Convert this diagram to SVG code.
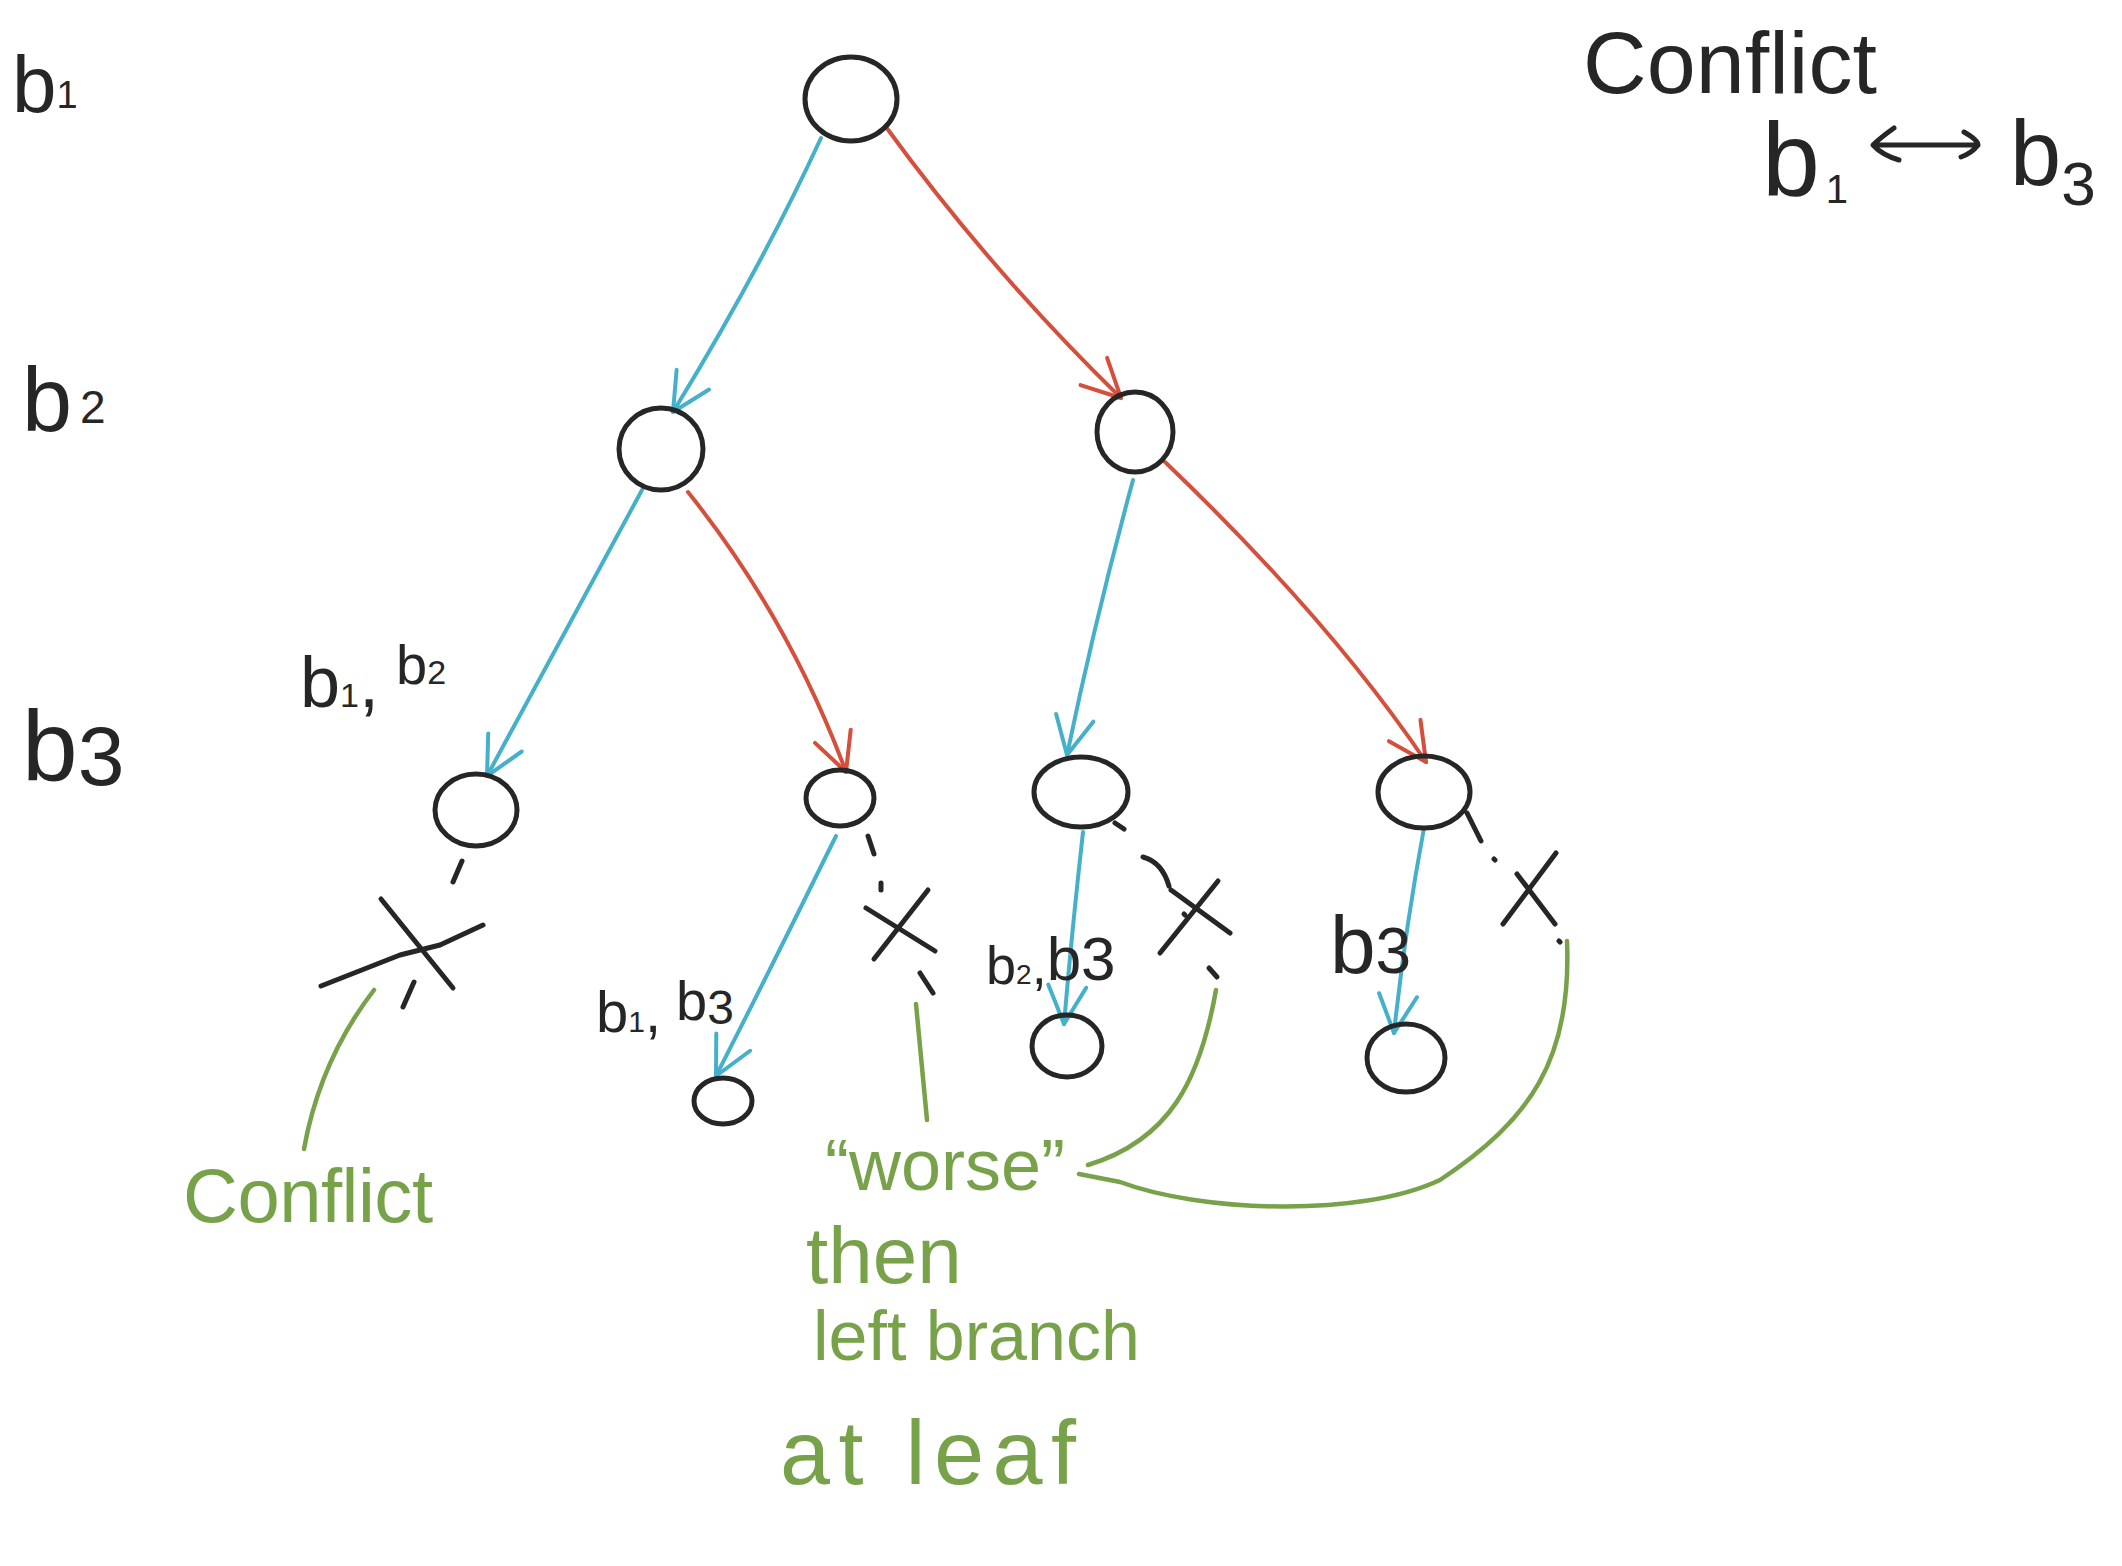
<svg xmlns="http://www.w3.org/2000/svg" width="2122" height="1566" viewBox="0 0 2122 1566">
<defs>
<style>
.bg{fill:#ffffff}
.node{fill:none;stroke:#262626;stroke-width:5;stroke-linecap:round;stroke-linejoin:round}
.blue{fill:none;stroke:#45b0c9;stroke-width:4;stroke-linecap:round}
.red{fill:none;stroke:#d5503c;stroke-width:4;stroke-linecap:round}
.green{fill:none;stroke:#78a24a;stroke-width:4.5;stroke-linecap:round;stroke-linejoin:round}
.cut{fill:none;stroke:#262626;stroke-width:5;stroke-linecap:round;stroke-linejoin:round}
.t{font-family:"Liberation Sans","DejaVu Sans",sans-serif;fill:#262626}
.g{font-family:"Liberation Sans","DejaVu Sans",sans-serif;fill:#78a24a}
</style>
<marker id="ab" markerUnits="userSpaceOnUse" viewBox="-50 -25 60 50" refX="0" refY="0" markerWidth="60" markerHeight="50" orient="auto">
<path d="M-38,-19 L0,0 L-38,19" fill="none" stroke="#45b0c9" stroke-width="4" stroke-linecap="round" stroke-linejoin="round"/>
</marker>
<marker id="ar" markerUnits="userSpaceOnUse" viewBox="-50 -25 60 50" refX="0" refY="0" markerWidth="60" markerHeight="50" orient="auto">
<path d="M-38,-19 L0,0 L-38,19" fill="none" stroke="#d5503c" stroke-width="4" stroke-linecap="round" stroke-linejoin="round"/>
</marker>
</defs>
<rect class="bg" x="0" y="0" width="2122" height="1566"/>

<g id="level-labels">
<text class="t" x="12" y="112" font-size="80">b<tspan font-size="38" dy="-4">1</tspan></text>
<text class="t" x="22" y="431" font-size="90">b<tspan font-size="46" dx="8" dy="-8">2</tspan></text>
<text class="t" x="22" y="781" font-size="100">b<tspan font-size="84" dx="0" dy="4">3</tspan></text>
</g>

<g id="conflict-note">
<text class="t" x="1583" y="93" font-size="88" textLength="294">Conflict</text>
<text class="t" x="1762" y="195" font-size="104">b<tspan font-size="40" dx="6" dy="8">1</tspan></text>
<path class="cut" d="M1876,145 L1978,145 M1894,128 Q1880,138 1873,145 Q1882,155 1899,160 M1964,132 Q1978,140 1978,145 Q1972,153 1961,157"/>
<text class="t" x="2010" y="185" font-size="92">b<tspan font-size="62" dx="0" dy="20">3</tspan></text>
</g>

<g id="connectors">
<path id="e1" class="blue" d="M821,138 Q760,270 673,412" marker-end="url(#ab)"/>
<path id="e2" class="red" d="M886,127 Q990,270 1121,398" marker-end="url(#ar)"/>
<path id="e3" class="blue" d="M642,490 Q560,640 487,776" marker-end="url(#ab)"/>
<path id="e4" class="red" d="M688,492 Q790,620 846,772" marker-end="url(#ar)"/>
<path id="e5" class="blue" d="M1133,480 Q1095,620 1067,755" marker-end="url(#ab)"/>
<path id="e6" class="red" d="M1165,462 Q1330,620 1426,762" marker-end="url(#ar)"/>
<path id="e7" class="blue" d="M836,836 Q775,960 716,1076" marker-end="url(#ab)"/>
<path id="e8" class="blue" d="M1083,832 Q1072,930 1064,1024" marker-end="url(#ab)"/>
<path id="e9" class="blue" d="M1424,828 Q1405,930 1394,1033" marker-end="url(#ab)"/>
</g>

<g id="pruned">
<path class="cut" d="M462,861 L453,882 M321,986 L400,955 L440,945 L483,925 M381,899 L453,988 M414,982 L403,1007"/>
<path class="cut" d="M868,836 L874,854 M881,883 L881,890 M928,890 L874,959 M866,908 L935,951 M920,973 L933,993"/>
<path class="cut" d="M1115,823 L1124,829 M1143,857 Q1162,862 1169,886 M1218,881 L1160,953 M1171,890 L1230,933 M1184,914 L1185,915 M1209,968 L1217,977"/>
<path class="cut" d="M1467,813 L1481,841 M1494,859 L1495,860 M1556,853 L1503,924 M1517,874 L1555,924 M1559,941 L1560,942"/>
</g>

<g id="n-root"><ellipse class="node" cx="851" cy="99" rx="46" ry="42"/></g>
<g id="n-l2a"><ellipse class="node" cx="661" cy="449" rx="42" ry="41"/></g>
<g id="n-l2b"><ellipse class="node" cx="1135" cy="432" rx="38" ry="40"/></g>
<g id="n-l3a"><ellipse class="node" cx="476" cy="810" rx="41" ry="36"/></g>
<g id="n-l3b"><ellipse class="node" cx="840" cy="798" rx="34" ry="28"/></g>
<g id="n-l3c"><ellipse class="node" cx="1081" cy="792" rx="47" ry="35"/></g>
<g id="n-l3d"><ellipse class="node" cx="1424" cy="792" rx="46" ry="36"/></g>
<g id="n-leaf1"><ellipse class="node" cx="723" cy="1101" rx="29" ry="23"/></g>
<g id="n-leaf2"><ellipse class="node" cx="1067" cy="1046" rx="35" ry="31"/></g>
<g id="n-leaf3"><ellipse class="node" cx="1406" cy="1058" rx="39" ry="34"/></g>

<g id="edge-labels">
<text class="t" x="300" y="707" font-size="72">b<tspan font-size="34" dy="0">1</tspan><tspan>,</tspan></text>
<text class="t" x="396" y="684" font-size="56">b<tspan font-size="34">2</tspan></text>
<text class="t" x="596" y="1032" font-size="58">b<tspan font-size="30">1</tspan><tspan>,</tspan></text>
<text class="t" x="676" y="1020" font-size="56">b<tspan font-size="48" dy="4">3</tspan></text>
<text class="t" x="986" y="984" font-size="54">b<tspan font-size="28">2</tspan><tspan>,</tspan><tspan font-size="62" dy="-4">b3</tspan></text>
<text class="t" x="1330" y="973" font-size="82">b<tspan font-size="64">3</tspan></text>
</g>

<g id="annotations">
<path class="green" d="M374,990 Q320,1060 304,1149"/>
<path class="green" d="M916,1004 L927,1120"/>
<path class="green" d="M1216,990 C1200,1080 1170,1140 1088,1165"/>
<path class="green" d="M1567,941 C1572,1060 1530,1120 1440,1180 C1360,1218 1200,1212 1120,1182 L1079,1174"/>
<text class="g" x="183" y="1222" font-size="76" textLength="250">Conflict</text>
<text class="g" x="825" y="1190" font-size="72">“worse”</text>
<text class="g" x="806" y="1283" font-size="80">then</text>
<text class="g" x="813" y="1360" font-size="70">left branch</text>
<text class="g" x="780" y="1484" font-size="90" textLength="296">at leaf</text>
</g>
</svg>
